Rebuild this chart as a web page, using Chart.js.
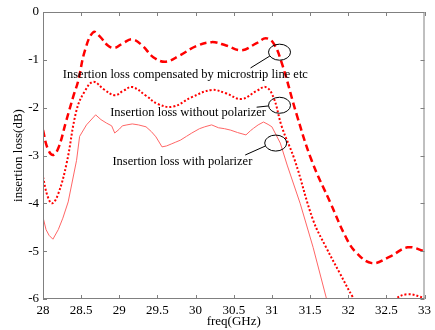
<!DOCTYPE html>
<html>
<head>
<meta charset="utf-8">
<script src="https://cdn.jsdelivr.net/npm/chart.js@4.4.0/dist/chart.umd.min.js"></script>
<style>
  html, body { margin: 0; padding: 0; background: #fff; }
  #wrap { width: 435px; height: 330px; }
</style>
</head>
<body>
<div id="wrap"><canvas id="lossChart" width="435" height="330"></canvas></div>
<script>
// freq (GHz) / insertion loss (dB)
const compFreq = [28, 28.06, 28.13, 28.2, 28.3, 28.4, 28.46, 28.55, 28.66, 28.75, 28.85, 28.94, 29.05, 29.17, 29.3, 29.45, 29.61, 29.8, 30.0, 30.21, 30.4, 30.6, 30.8, 30.92, 31.02, 31.13, 31.32, 31.52, 31.77, 31.97, 32.1, 32.31, 32.54, 32.78, 33];
const compLoss = [-2.47, -2.85, -2.99, -2.85, -2.3, -1.75, -1.45, -0.8, -0.42, -0.52, -0.7, -0.75, -0.65, -0.57, -0.7, -0.95, -1.04, -0.9, -0.72, -0.63, -0.7, -0.8, -0.65, -0.55, -0.65, -1.07, -2.12, -3.1, -4.0, -4.71, -5.02, -5.25, -5.12, -4.92, -5.0];

const noPolFreq = [28, 28.06, 28.12, 28.2, 28.31, 28.44, 28.55, 28.66, 28.8, 28.94, 29.05, 29.17, 29.35, 29.5, 29.7, 29.95, 30.21, 30.4, 30.6, 30.8, 30.92, 31.02, 31.13, 31.3, 31.54, 31.71, 31.89, 32.06, 32.2, 32.4, 32.6, 32.78, 33];
const noPolLoss = [-3.45, -3.85, -4.0, -3.8, -3.16, -2.05, -1.65, -1.46, -1.62, -1.74, -1.65, -1.57, -1.75, -1.92, -1.98, -1.78, -1.63, -1.7, -1.82, -1.65, -1.57, -1.78, -2.4, -3.1, -4.35, -4.92, -5.46, -5.96, -6.3, -6.35, -6.02, -5.9, -5.98];

const polFreq = [28, 28.04, 28.08, 28.13, 28.2, 28.26, 28.33, 28.44, 28.48, 28.57, 28.69, 28.76, 28.83, 28.9, 28.94, 29.0, 29.04, 29.1, 29.17, 29.25, 29.35, 29.42, 29.48, 29.56, 29.62, 29.68, 29.74, 29.8, 29.88, 29.95, 30.05, 30.12, 30.21, 30.3, 30.38, 30.46, 30.55, 30.66, 30.72, 30.76, 30.82, 30.89, 30.95, 31.0, 31.11, 31.2, 31.37, 31.54, 31.71, 31.8];
const polLoss = [-4.29, -4.55, -4.67, -4.75, -4.55, -4.31, -3.97, -3.1, -2.6, -2.36, -2.15, -2.25, -2.32, -2.38, -2.53, -2.45, -2.38, -2.36, -2.34, -2.36, -2.4, -2.5, -2.61, -2.82, -2.8, -2.76, -2.72, -2.68, -2.6, -2.53, -2.44, -2.4, -2.36, -2.42, -2.44, -2.47, -2.52, -2.57, -2.48, -2.43, -2.36, -2.3, -2.35, -2.4, -2.74, -3.2, -4.0, -4.92, -5.96, -6.4];

// annotation labels: text, x, y (data coords)
const noteText = ['Insertion loss compensated by microstrip line etc', 'Insertion loss without polarizer', 'Insertion loss with polarizer'];
const noteX = [28.26, 28.88, 28.91];
const noteY = [-1.32, -2.11, -3.14];
// ellipses and leader lines
const ringX = [31.1, 31.1, 31.05];
const ringY = [-0.84, -1.95, -2.74];
const leadFromX = [30.72, 30.8, 30.65];
const leadFromY = [-1.17, -1.99, -2.99];

const toXY = (xs, ys) => xs.map((x, i) => ({ x: x, y: ys[i] }));
const serif = '"Liberation Serif", "DejaVu Serif", serif';

const boxAndTicks = {
    id: 'boxAndTicks',
    afterDraw(chart) {
        const ctx = chart.ctx;
        const a = chart.chartArea;
        const xs = chart.scales.x, ys = chart.scales.y;
        ctx.save();
        ctx.strokeStyle = '#808080';
        ctx.lineWidth = 1;
        ctx.strokeRect(a.left + 0.5, a.top + 0.5, a.right - a.left - 1, a.bottom - a.top - 1);
        ctx.beginPath();
        xs.ticks.forEach(t => {
            const px = Math.round(xs.getPixelForValue(t.value)) + 0.5;
            ctx.moveTo(px, a.bottom); ctx.lineTo(px, a.bottom - 4);
            ctx.moveTo(px, a.top); ctx.lineTo(px, a.top + 4);
        });
        ys.ticks.forEach(t => {
            const py = Math.round(ys.getPixelForValue(t.value)) + 0.5;
            ctx.moveTo(a.left, py); ctx.lineTo(a.left + 4, py);
            ctx.moveTo(a.right, py); ctx.lineTo(a.right - 4, py);
        });
        ctx.stroke();

        // notes
        ctx.fillStyle = '#000';
        ctx.font = '12.5px ' + serif;
        ctx.textBaseline = 'middle';
        ctx.textAlign = 'left';
        noteText.forEach((txt, i) => {
            ctx.fillText(txt, xs.getPixelForValue(noteX[i]), ys.getPixelForValue(noteY[i]));
        });
        ctx.strokeStyle = '#000';
        ctx.lineWidth = 1;
        ringX.forEach((rx, i) => {
            const cx = xs.getPixelForValue(rx), cy = ys.getPixelForValue(ringY[i]);
            ctx.beginPath();
            ctx.ellipse(cx, cy, 11, 8, 0, 0, Math.PI * 2);
            ctx.stroke();
            const fx = xs.getPixelForValue(leadFromX[i]), fy = ys.getPixelForValue(leadFromY[i]);
            const ang = Math.atan2(fy - cy, fx - cx);
            ctx.beginPath();
            ctx.moveTo(fx, fy);
            ctx.lineTo(cx + 11 * Math.cos(ang), cy + 8 * Math.sin(ang));
            ctx.stroke();
        });
        ctx.restore();
    }
};

new Chart(document.getElementById('lossChart').getContext('2d'), {
    type: 'line',
    data: {
        datasets: [{
            label: 'compensated',
            data: toXY(compFreq, compLoss),
            borderColor: '#ff0000',
            borderWidth: 2.5,
            borderDash: [7, 4],
            pointRadius: 0,
            tension: 0.4,
            fill: false
        }, {
            label: 'without polarizer',
            data: toXY(noPolFreq, noPolLoss),
            borderColor: '#ff0000',
            borderWidth: 2,
            borderDash: [2, 2],
            pointRadius: 0,
            tension: 0.4,
            fill: false
        }, {
            label: 'with polarizer',
            data: toXY(polFreq, polLoss),
            borderColor: '#ff6666',
            borderWidth: 1,
            pointRadius: 0,
            tension: 0,
            fill: false
        }]
    },
    options: {
        responsive: false,
        animation: false,
        layout: { padding: { top: 12, right: 8, left: 0, bottom: 0 } },
        plugins: { legend: { display: false }, tooltip: { enabled: false } },
        scales: {
            x: {
                type: 'linear',
                min: 28, max: 33,
                afterFit: s => { s.height = 31; },
                grid: { display: false, drawTicks: false },
                border: { display: false },
                ticks: {
                    stepSize: 0.5, padding: 4, color: '#000', font: { family: serif, size: 13 },
                    callback: v => String(Math.round(v * 10) / 10)
                },
                title: { display: true, text: 'freq(GHz)', color: '#000', font: { family: serif, size: 13 }, padding: { top: 0, bottom: 1 } }
            },
            y: {
                min: -6, max: 0,
                afterFit: s => { s.width = 43; },
                grid: { display: false, drawTicks: false },
                border: { display: false },
                ticks: { stepSize: 1, padding: 4, color: '#000', font: { family: serif, size: 13 } },
                title: { display: true, text: 'insertion loss(dB)', color: '#000', font: { family: serif, size: 13 }, padding: { top: 11, bottom: 0 } }
            }
        }
    },
    plugins: [boxAndTicks]
});
</script>
</body>
</html>
